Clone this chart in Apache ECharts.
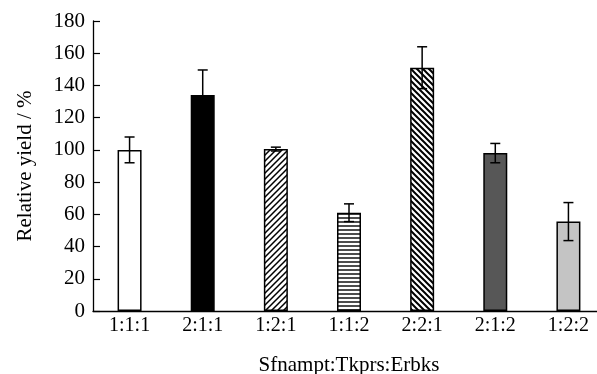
<!DOCTYPE html>
<html><head><meta charset="utf-8">
<script src="https://cdn.jsdelivr.net/npm/echarts@6/dist/echarts.min.js"></script>
<style>html,body{margin:0;padding:0;background:#fff}#c{width:597px;height:374px}</style>
</head><body><div id="c"></div>
<script>
const categories = ['1:1:1','2:1:1','1:2:1','1:1:2','2:2:1','2:1:2','1:2:2'];
const values = [100, 134, 100.5, 61, 151, 98, 55.5];
const errors = [8, 15.6, 1.2, 5.5, 13, 6, 11.8];
const yMin = 0, yMax = 180, yStep = 20;
const xTitle = 'Sfnampt:Tkprs:Erbks';
const yTitle = 'Relative yield / %';

function hatch(kind) {
  const c = document.createElement('canvas');
  const s = kind === 'h' ? 4 : 6;
  c.width = s; c.height = s;
  const g = c.getContext('2d');
  g.fillStyle = '#fff'; g.fillRect(0,0,s,s);
  g.strokeStyle = '#000';
  if (kind === 'h') {
    g.lineWidth = 1.4;
    g.beginPath(); g.moveTo(0, s/2); g.lineTo(s, s/2); g.stroke();
  } else if (kind === 'up') {
    g.lineWidth = 1.5;
    g.beginPath();
    g.moveTo(-1,1); g.lineTo(1,-1);
    g.moveTo(0,s); g.lineTo(s,0);
    g.moveTo(s-1,s+1); g.lineTo(s+1,s-1);
    g.stroke();
  } else {
    g.lineWidth = 2;
    g.beginPath();
    g.moveTo(-1,s-1); g.lineTo(1,s+1);
    g.moveTo(0,0); g.lineTo(s,s);
    g.moveTo(s-1,-1); g.lineTo(s+1,1);
    g.stroke();
  }
  return {image: c, repeat: 'repeat'};
}
const fills = ['#ffffff', '#000000', hatch('up'), hatch('h'), hatch('down'), '#575757', '#c4c4c4'];

const chart = echarts.init(document.getElementById('c'), null, {renderer: 'canvas'});
const font = 'Liberation Serif, Times New Roman, serif';
chart.setOption({
  animation: false,
  grid: {left: 93, top: 21, bottom: 63, width: 512, containLabel: false, outerBoundsMode: 'none'},
  xAxis: {
    type: 'category', data: categories, z: 5,
    axisLine: {lineStyle: {color: '#000', width: 1.3}},
    axisTick: {inside: true, alignWithLabel: true, length: 7, lineStyle: {color: '#000', width: 1.2}},
    axisLabel: {color: '#000', fontFamily: font, fontSize: 20, margin: 5},
    name: xTitle, nameLocation: 'middle', nameGap: 44,
    nameTextStyle: {color: '#000', fontFamily: font, fontSize: 21}
  },
  yAxis: {
    type: 'value', min: yMin, max: yMax, interval: yStep,
    axisLine: {show: true, lineStyle: {color: '#000', width: 1.3}},
    axisTick: {show: true, inside: true, length: 7, lineStyle: {color: '#000', width: 1.2}},
    splitLine: {show: false},
    axisLabel: {color: '#000', fontFamily: font, fontSize: 21, margin: 8},
    name: yTitle, nameLocation: 'middle', nameGap: 57,
    nameTextStyle: {color: '#000', fontFamily: font, fontSize: 21}
  },
  series: [
    {
      type: 'bar', barWidth: 24,
      data: values.map((v, i) => ({value: v, itemStyle: {color: fills[i]}})),
      itemStyle: {borderColor: '#000', borderWidth: 1.5}
    },
    {
      type: 'custom', z: 10,
      data: values.map((v, i) => [i, v, errors[i]]),
      renderItem: function (params, api) {
        const i = api.value(0), v = api.value(1), e = api.value(2);
        const t = api.coord([i, v + e]);
        const b = api.coord([i, v - e]);
        const w = 5;
        const st = {stroke: '#000', lineWidth: 1.5};
        return {type: 'group', children: [
          {type: 'line', shape: {x1: t[0], y1: t[1], x2: b[0], y2: b[1]}, style: st},
          {type: 'line', shape: {x1: t[0]-w, y1: t[1], x2: t[0]+w, y2: t[1]}, style: st},
          {type: 'line', shape: {x1: b[0]-w, y1: b[1], x2: b[0]+w, y2: b[1]}, style: st}
        ]};
      }
    }
  ]
});
</script></body></html>
